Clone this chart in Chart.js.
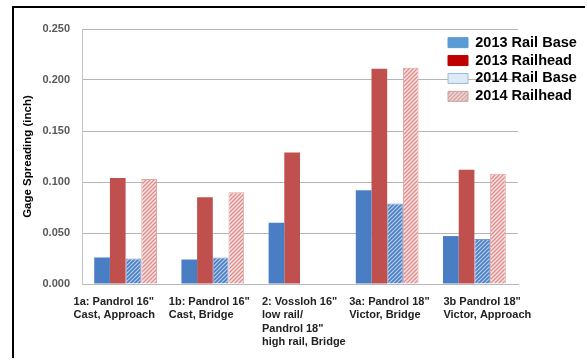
<!DOCTYPE html>
<html>
<head>
<meta charset="utf-8">
<script src="https://cdn.jsdelivr.net/npm/chart.js@4.4.1/dist/chart.umd.min.js"></script>
<style>
  html, body { margin: 0; padding: 0; background: #fff; overflow: hidden; }
  #frame {
    position: absolute; left: 12px; top: 6px;
    width: 571px; height: 350px;
    border-left: 2px solid #000; border-top: 2px solid #000;
  }
  #chart { display: block; }
</style>
</head>
<body>
<div id="frame"><canvas id="chart" width="571" height="350"></canvas></div>
<script>
const categories = [
  ['1a: Pandrol 16"', 'Cast, Approach'],
  ['1b: Pandrol 16"', 'Cast, Bridge'],
  ['2: Vossloh 16"', 'low rail/', 'Pandrol 18"', 'high rail, Bridge'],
  ['3a: Pandrol 18"', 'Victor, Bridge'],
  ['3b Pandrol 18"', 'Victor, Approach']
]
const seriesNames = ['2013 Rail Base', '2013 Railhead', '2014 Rail Base', '2014 Railhead']
const railBase2013 = [0.026, 0.024, 0.060, 0.092, 0.047]
const railhead2013 = [0.104, 0.085, 0.129, 0.211, 0.112]
const railBase2014 = [0.025, 0.026, null, 0.079, 0.044]
const railhead2014 = [0.103, 0.090, null, 0.212, 0.108]
const yTicks = [0, 0.05, 0.1, 0.15, 0.2, 0.25]

const FONT = "'Liberation Sans', Arial, sans-serif"

// small diagonal hatch used for the 2014 bars
function hatch(bg, fg, w) {
  const c = document.createElement('canvas')
  c.width = c.height = 4
  const g = c.getContext('2d')
  g.fillStyle = bg
  g.fillRect(0, 0, 4, 4)
  g.strokeStyle = fg
  g.lineWidth = w
  g.beginPath()
  g.moveTo(0, 4); g.lineTo(4, 0)
  g.moveTo(-1, 1); g.lineTo(1, -1)
  g.moveTo(3, 5); g.lineTo(5, 3)
  g.stroke()
  return g.createPattern(c, 'repeat')
}

const blueHatch = hatch('#b9cfee', '#4a7ec4', 1.6)
const pinkHatch = hatch('#fbe6e6', '#df8c8a', 1.4)
const pinkSwatch = hatch('#f1d6d6', '#d7a3a3', 1.3)

// legend sits over the top-right of the plot, only part of its width is reserved
const legendOverlay = {
  id: 'legendOverlay',
  beforeUpdate(chart) {
    const lg = chart.legend
    if (!lg || lg._overlay) return
    lg._overlay = true
    const fit = lg.fit
    lg.fit = function () {
      fit.call(this)
      this.width = 67
    }
    const draw = lg.draw
    lg.draw = function () {
      const saved = [this.left, this.right, this.width, this.top]
      this.left = 448 - 14 - 3.4
      this.right = chart.width
      this.width = this.right - this.left
      this.top = 24
      draw.call(this)
      ;[this.left, this.right, this.width, this.top] = saved
    }
  }
}

// the original labels are not evenly placed under their groups, nudge them a bit
const labelNudge = {
  id: 'labelNudge',
  beforeDraw(chart) {
    const nudge = [-11, -3, 3, 3, 10]
    chart.scales.x.getLabelItems().forEach((item, i) => {
      if (!item._nudged) {
        item.options.translation[0] += nudge[i] || 0
        item._nudged = true
      }
    })
  }
}

const ctx = document.getElementById('chart').getContext('2d')

new Chart(ctx, {
  type: 'bar',
  data: {
    labels: categories,
    datasets: [
      {
        label: seriesNames[0],
        data: railBase2013,
        backgroundColor: '#4a7ec4',
        legendFill: '#5b9bd5',
        legendBorder: '#5b9bd5'
      },
      {
        label: seriesNames[1],
        data: railhead2013,
        backgroundColor: '#c0504d',
        legendFill: '#c00000',
        legendBorder: '#c00000'
      },
      {
        label: seriesNames[2],
        data: railBase2014,
        backgroundColor: blueHatch,
        borderColor: '#7299cf',
        borderWidth: 1,
        legendFill: '#dcebf6',
        legendBorder: '#9db9d6'
      },
      {
        label: seriesNames[3],
        data: railhead2014,
        backgroundColor: pinkHatch,
        borderColor: '#e0a4a3',
        borderWidth: 1,
        legendFill: pinkSwatch,
        legendBorder: '#c9a5a5'
      }
    ]
  },
  options: {
    responsive: false,
    animation: false,
    layout: { padding: { top: 21, left: 0, right: 0, bottom: 0 } },
    datasets: {
      bar: {
        barPercentage: 1,
        categoryPercentage: 0.72
      }
    },
    scales: {
      x: {
        grid: { display: false },
        border: { color: '#b8b8b8' },
        afterFit(scale) { scale.height = 74 },
        ticks: {
          autoSkip: false,
          maxRotation: 0,
          minRotation: 0,
          align: 'start',
          labelOffset: -41,
          padding: 3,
          color: '#222',
          font: { family: FONT, size: 11, weight: 'bold', lineHeight: 1.23 }
        }
      },
      y: {
        min: 0,
        max: 0.25,
        afterFit(scale) { scale.width = 68 },
        afterBuildTicks(scale) {
          scale.ticks = yTicks.map(v => ({ value: v }))
        },
        grid: { color: '#b4b4b4', drawTicks: false },
        border: { color: '#c4c4c4' },
        ticks: {
          padding: 12,
          color: '#595959',
          font: { family: FONT, size: 11, weight: 'bold' },
          callback: v => Number(v).toFixed(3)
        },
        title: {
          display: true,
          text: 'Gage Spreading (inch)',
          color: '#000',
          padding: { top: 7, bottom: 0 },
          font: { family: FONT, size: 11.5, weight: 'bold' }
        }
      }
    },
    plugins: {
      tooltip: { enabled: false },
      legend: {
        position: 'right',
        align: 'start',
        labels: {
          boxWidth: 20,
          boxHeight: 10,
          padding: 3.4,
          color: '#111',
          font: { family: FONT, size: 14.5, weight: 'bold' },
          generateLabels(chart) {
            return chart.data.datasets.map((ds, i) => ({
              text: ds.label,
              fillStyle: ds.legendFill,
              strokeStyle: ds.legendBorder,
              lineWidth: 1,
              hidden: false,
              datasetIndex: i
            }))
          }
        }
      }
    }
  },
  plugins: [legendOverlay, labelNudge]
})
</script>
</body>
</html>
